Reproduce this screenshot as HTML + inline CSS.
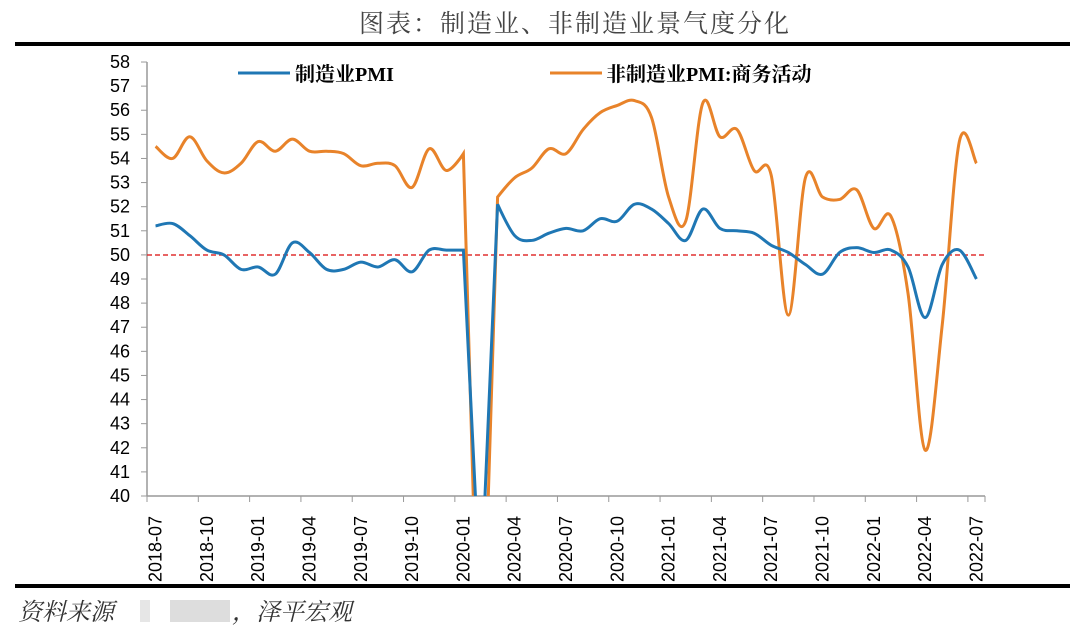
<!DOCTYPE html>
<html><head><meta charset="utf-8"><style>
html,body{margin:0;padding:0;width:1080px;height:633px;background:#fff;overflow:hidden;font-family:"Liberation Sans","Noto Sans CJK SC",sans-serif}
svg{display:block}
</style></head><body>
<svg id="s" width="1080" height="633" xmlns="http://www.w3.org/2000/svg">
<text x="575" y="32" text-anchor="middle" font-size="25" fill="#444" font-family="'Noto Serif CJK SC',serif" letter-spacing="2">图表：制造业、非制造业景气度分化</text>
<rect x="15" y="42" width="1055" height="4" fill="#000"/>
<rect x="15" y="584" width="1055" height="4" fill="#000"/>
<text x="18" y="620" font-size="24" fill="#333" font-style="italic" font-family="'Noto Serif CJK SC',serif">资料来源</text>
<rect x="140" y="600" width="10" height="22" fill="#e6e6e6"/>
<rect x="170" y="600" width="60" height="22" fill="#ddd"/>
<text x="232" y="620" font-size="24" fill="#333" font-style="italic" font-family="'Noto Serif CJK SC',serif">，泽平宏观</text>
<defs><clipPath id="c"><rect x="147" y="55" width="845" height="441"/></clipPath></defs>
<g id="ax"></g>
<line x1="147" y1="255" x2="985" y2="255" stroke="#e03030" stroke-width="1.5" stroke-dasharray="5,3"/>
<g clip-path="url(#c)"><path id="o" fill="none" stroke="#e8832a" stroke-width="3"/><path id="b" fill="none" stroke="#1f77b4" stroke-width="3"/></g>
<line x1="238" y1="73" x2="290" y2="73" stroke="#1f77b4" stroke-width="3"/>
<text x="295" y="81" font-size="20" font-weight="bold" font-family="'Liberation Serif','Noto Serif CJK SC',serif">制造业PMI</text>
<line x1="550" y1="73" x2="602" y2="73" stroke="#e8832a" stroke-width="3"/>
<text x="606" y="81" font-size="20" font-weight="bold" font-family="'Liberation Serif','Noto Serif CJK SC',serif">非制造业PMI:商务活动</text>
</svg>
<script>
const X0=147,W=838/49,Y0=496,PY=24.11;
const b=[51.2,51.3,50.8,50.2,50.0,49.4,49.5,49.2,50.5,50.1,49.4,49.4,49.7,49.5,49.8,49.3,50.2,50.2,50.2,35.7,52.1,50.8,50.6,50.9,51.1,51.0,51.5,51.4,52.1,51.9,51.3,50.6,51.9,51.1,51.0,50.9,50.4,50.1,49.6,49.2,50.1,50.3,50.1,50.2,49.5,47.4,49.6,50.2,49.0];
const o=[54.5,54.0,54.9,53.9,53.4,53.8,54.7,54.3,54.8,54.3,54.3,54.2,53.7,53.8,53.7,52.8,54.4,53.5,54.2,29.6,52.4,53.2,53.6,54.4,54.2,55.2,55.9,56.2,56.4,55.7,52.4,51.4,56.3,54.9,55.2,53.5,53.3,47.5,53.2,52.4,52.3,52.7,51.1,51.6,48.4,41.9,47.1,54.7,53.8];
function px(i){return X0+W*(i+0.5)}function py(v){return Y0-(v-40)*PY}
function path(d){let p=d.map((v,i)=>[px(i),py(v)]);let s="M"+p[0].join(",");
for(let i=0;i<p.length-1;i++){let a=p[Math.max(0,i-1)],c=p[i],e=p[i+1],f=p[Math.min(p.length-1,i+2)];
let t1=(i==18||i==19||i==20)?0:0.17,t2=(i+1==18||i+1==19||i+1==20)?0:0.17;
s+=` C${c[0]+(e[0]-a[0])*t1},${c[1]+(e[1]-a[1])*t1} ${e[0]-(f[0]-c[0])*t2},${e[1]-(f[1]-c[1])*t2} ${e[0]},${e[1]}`;}return s}
document.getElementById('b').setAttribute('d',path(b));document.getElementById('o').setAttribute('d',path(o));
let g='<line x1="147" y1="62" x2="147" y2="496" stroke="#999" stroke-width="1.5"/><line x1="147" y1="496" x2="985" y2="496" stroke="#999" stroke-width="1.5"/>';
for(let v=40;v<=58;v++){let y=py(v);g+=`<line x1="141" y1="${y}" x2="147" y2="${y}" stroke="#999"/><text x="120" y="${y+6}" font-size="18" text-anchor="middle">${v}</text>`}
const lab=["2018-07","2018-10","2019-01","2019-04","2019-07","2019-10","2020-01","2020-04","2020-07","2020-10","2021-01","2021-04","2021-07","2021-10","2022-01","2022-04","2022-07"];
for(let k=0;k<lab.length;k++){let i=k*3,x=X0+W*i;g+=`<line x1="${x}" y1="496" x2="${x}" y2="502" stroke="#999"/>`;
let cx=px(i)+6;g+=`<text transform="translate(${cx},582) rotate(-90)" font-size="18">${lab[k]}</text>`}
g+=`<line x1="985" y1="496" x2="985" y2="502" stroke="#999"/>`;
document.getElementById('ax').innerHTML=g;
</script>
</body></html>
